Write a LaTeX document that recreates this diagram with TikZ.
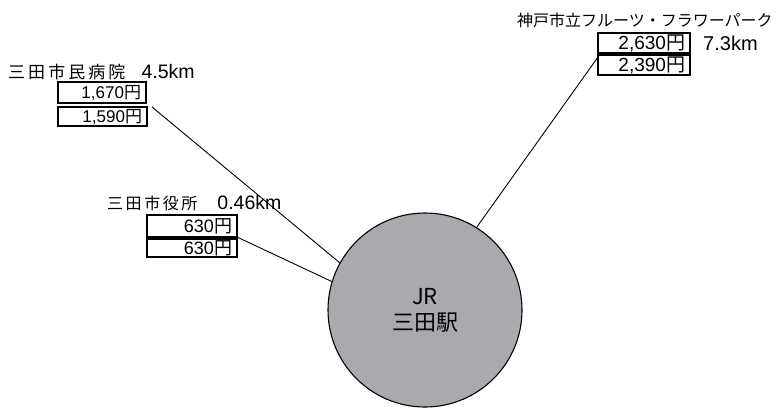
\documentclass[tikz,border=0pt]{standalone}
\usepackage{fontspec}
\setmainfont{Noto Sans CJK JP}
\newfontfamily\jpwa[LetterSpace=18]{Noto Sans CJK JP}
\newfontfamily\jpwb[LetterSpace=16]{Noto Sans CJK JP}
\newfontfamily\latn{Liberation Sans}
\definecolor{stgray}{RGB}{170,169,174}
\begin{document}
\begin{tikzpicture}[x=1pt,y=-1pt,
  pricebox/.style={draw, line width=1.1pt, minimum height=20pt, inner xsep=5pt, inner ysep=0pt, align=right, text height=0.72*#1 pt, text depth=0pt, font=\fontsize{#1}{#1}\latn},
  lbl/.style={anchor=west, inner sep=0pt, font=\fontsize{16}{16}\selectfont},
  conn/.style={line width=0.9pt}]
\useasboundingbox (0,0) rectangle (778,408);
\node[circle, draw, line width=1.1pt, fill=stgray, minimum size=194pt, inner sep=0pt, align=center, font=\fontsize{22}{26}\selectfont] (st) at (425,310) {JR\\三田駅};
% hospital
\node[lbl] (hl) at (8,72) {{\fontsize{17}{17}\jpwa 三田市民病院}\hspace{16pt}{\fontsize{19.5}{19.5}\latn 4.5km}};
\node[pricebox=17, text width=78pt, minimum height=21pt] (h1) at (102,92.5) {1,670{\rmfamily 円}};
\node[pricebox=17, text width=79pt, minimum height=19pt] (h2) at (102.5,116.5) {1,590{\rmfamily 円}};
\coordinate (hA) at (152,107);
% city hall
\node[lbl] (cl) at (107,203) {{\fontsize{16}{16}\jpwb 三田市役所}\hspace{20pt}{\fontsize{19.5}{19.5}\latn 0.46km}};
\node[pricebox=18, text width=80pt, minimum height=22pt] (c1) at (192,226) {630{\rmfamily 円}};
\node[pricebox=18, text width=80pt, minimum height=18pt] (c2) at (192,248) {630{\rmfamily 円}};
\coordinate (cA) at (237,237);
% fruit park
\node[lbl] (fl) at (517,20) {神戸市立フルーツ・フラワーパーク};
\node[pricebox=19, text width=82pt] (f1) at (644,43) {2,630{\rmfamily 円}};
\node[pricebox=19, text width=82pt] (f2) at (644,65) {2,390{\rmfamily 円}};
\node[lbl, font=\fontsize{20}{20}\latn] (fk) at (703,43) {7.3km};
\coordinate (fA) at (598,57);
% connectors
\draw[conn] (hA) -- (st.151);
\draw[conn] (cA) -- (st.163);
\draw[conn] (fA) -- (st.58.5);
\end{tikzpicture}
\end{document}
